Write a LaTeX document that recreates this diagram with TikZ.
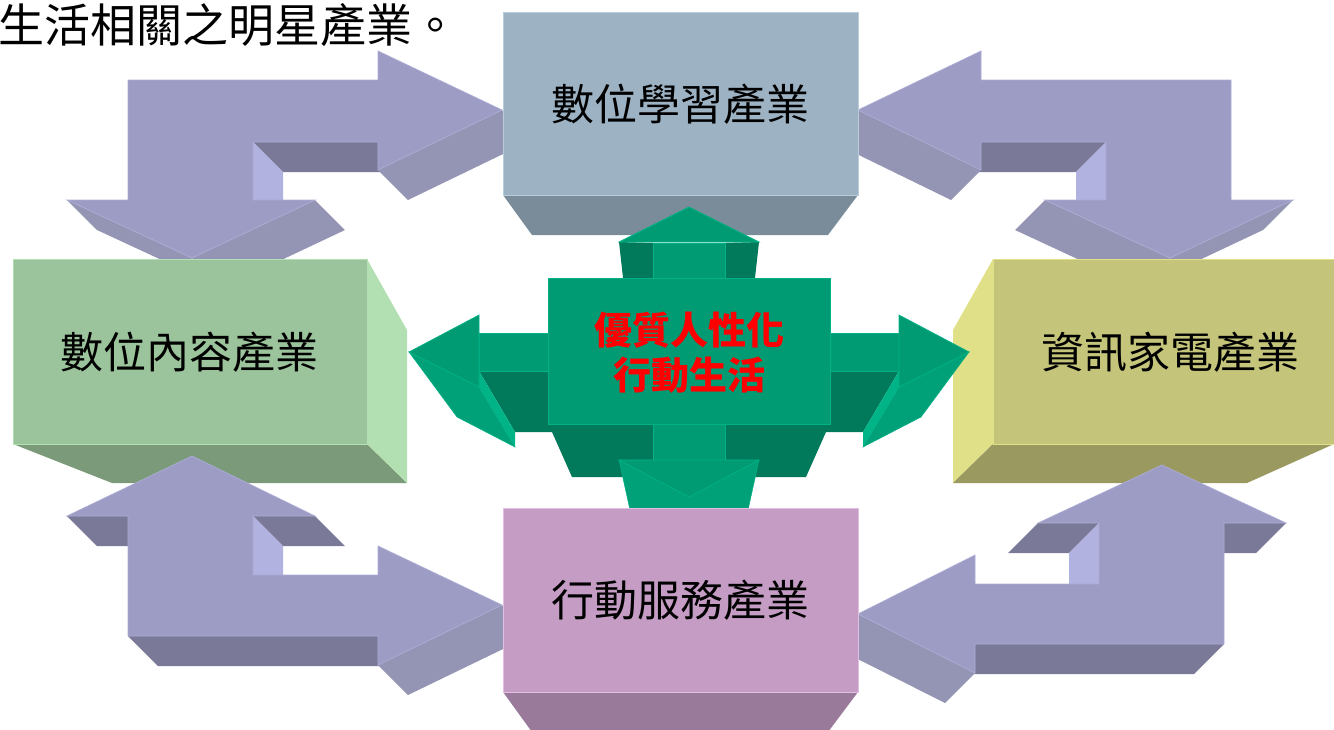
\documentclass[tikz,border=0pt]{standalone}
\usepackage{fontspec}
\setmainfont{Noto Sans CJK TC}
\definecolor{pmain}{RGB}{156,156,196}
\definecolor{pedge}{RGB}{172,172,214}
\definecolor{pdarkc}{RGB}{122,122,152}
\definecolor{pmedc}{RGB}{148,148,180}
\definecolor{plightc}{RGB}{178,178,224}
\definecolor{gmain}{RGB}{0,155,114}
\definecolor{gedge}{RGB}{0,178,134}
\definecolor{gdark}{RGB}{0,122,90}
\definecolor{gmed}{RGB}{0,160,120}
\definecolor{glight}{RGB}{0,180,136}
\definecolor{bluef}{RGB}{157,179,196}
\definecolor{blueb}{RGB}{122,140,153}
\definecolor{bluee}{RGB}{184,204,217}
\definecolor{grnf}{RGB}{156,196,156}
\definecolor{grns}{RGB}{179,224,179}
\definecolor{grnb}{RGB}{122,154,122}
\definecolor{yelf}{RGB}{196,196,122}
\definecolor{yels}{RGB}{224,224,136}
\definecolor{yelb}{RGB}{153,153,96}
\definecolor{pinkf}{RGB}{196,156,196}
\definecolor{pinkb}{RGB}{154,122,154}
\definecolor{pinke}{RGB}{226,190,226}
\tikzset{
  pface/.style={fill=pmain, draw=pedge, line width=0.7pt, line join=miter},
  pdark/.style={fill=pdarkc},
  pmed/.style={fill=pmedc},
  plight/.style={fill=plightc},
  gface/.style={fill=gmain, draw=gedge, line width=0.7pt},
  boxlabel/.style={font=\fontsize{43}{50}\selectfont, text=black, inner sep=0pt},
}
\begin{document}
\begin{tikzpicture}[x=1pt,y=-1pt]
\useasboundingbox (0,0) rectangle (1334,729);
\clip (0,0) rectangle (1334,729);

% ---------- top-left arrow ----------
\fill[pdark] (253,142) -- (378,142) -- (408,172) -- (283,172) -- cycle;
\fill[plight] (253,142) -- (283,172) -- (283,230) -- (253,200) -- cycle;
\fill[pmed] (378,170) -- (502,110) -- (532,140) -- (408,200) -- cycle;
\fill[pmed] (67,200) -- (192,258) -- (222,288) -- (97,230) -- cycle;
\fill[pmed] (315,200) -- (192,258) -- (222,288) -- (345,230) -- cycle;
\filldraw[pface] (128,80) -- (378,80) -- (378,51) -- (502,110) -- (378,170) -- (378,142)
  -- (253,142) -- (253,200) -- (315,200) -- (192,258) -- (67,200) -- (128,200) -- cycle;

% ---------- top-right arrow ----------
\fill[pdark] (1106,142) -- (981,142) -- (951,172) -- (1076,172) -- cycle;
\fill[plight] (1106,142) -- (1076,172) -- (1076,230) -- (1106,200) -- cycle;
\fill[pmed] (981,170) -- (858,110) -- (828,140) -- (951,200) -- cycle;
\fill[pmed] (1045,200) -- (1170,258) -- (1140,288) -- (1015,230) -- cycle;
\fill[pmed] (1293,200) -- (1170,258) -- (1140,288) -- (1263,230) -- cycle;
\filldraw[pface] (1231,80) -- (981,80) -- (981,51) -- (858,110) -- (981,170) -- (981,142)
  -- (1106,142) -- (1106,200) -- (1045,200) -- (1170,258) -- (1293,200) -- (1231,200) -- cycle;

% ---------- left box ----------
\fill[grnb] (13,444) -- (367,444) -- (407,483) -- (112,483) -- cycle;
\fill[grns] (367,259) -- (407,330) -- (407,483) -- (367,444) -- cycle;
\filldraw[fill=grnf, draw=grns, line width=0.7pt] (13,259) rectangle (367,444);
\node[boxlabel] (content) at (189,352) {數位內容產業};

% ---------- right box ----------
\fill[yels] (993,259) -- (953,330) -- (953,483) -- (993,444) -- cycle;
\fill[yelb] (993,444) -- (1334,444) -- (1247,483) -- (953,483) -- cycle;
\filldraw[fill=yelf, draw=yels, line width=0.7pt] (993,259) rectangle (1340,444);
\node[boxlabel] (appliance) at (1170,352) {資訊家電產業};

% ---------- bottom-left arrow ----------
\fill[pdark] (67,516) -- (128,516) -- (158,546) -- (97,546) -- cycle;
\fill[pdark] (253,516) -- (315,516) -- (345,546) -- (283,546) -- cycle;
\fill[plight] (253,516) -- (283,546) -- (283,605) -- (253,575) -- cycle;
\fill[pdark] (128,636) -- (378,636) -- (408,666) -- (158,666) -- cycle;
\fill[pmed] (378,665) -- (502,605) -- (532,635) -- (408,695) -- cycle;
\filldraw[pface] (192,456) -- (315,516) -- (253,516) -- (253,575) -- (378,575) -- (378,546)
  -- (502,605) -- (378,665) -- (378,636) -- (128,636) -- (128,516) -- (67,516) -- cycle;

% ---------- bottom-right arrow ----------
\fill[pdark] (1038,523) -- (1099,523) -- (1069,553) -- (1008,553) -- cycle;
\fill[pdark] (1224,523) -- (1286,523) -- (1256,553) -- (1194,553) -- cycle;
\fill[plight] (1099,523) -- (1069,553) -- (1069,614) -- (1099,584) -- cycle;
\fill[pdark] (975,644) -- (1224,644) -- (1194,674) -- (945,674) -- cycle;
\fill[pmed] (975,673) -- (858,614) -- (828,644) -- (945,703) -- cycle;
\filldraw[pface] (1162,465) -- (1286,523) -- (1224,523) -- (1224,644) -- (975,644) -- (975,673)
  -- (858,614) -- (975,555) -- (975,584) -- (1099,584) -- (1099,523) -- (1038,523) -- cycle;

% ---------- top box ----------
\fill[blueb] (503,195) -- (858,195) -- (828,235) -- (532,235) -- cycle;
\filldraw[fill=bluef, draw=bluee, line width=0.7pt] (503,12) rectangle (858,195);
\node[boxlabel] (learning) at (680,104) {數位學習產業};

% ---------- green cross ----------
\fill[gdark] (479,371) -- (515,432) -- (552,432) -- (572,477) -- (806,477) -- (826,432)
  -- (863,432) -- (899,371) -- cycle;
\fill[gdark] (619,242) -- (653,243) -- (653,278) -- (623,278) -- cycle;
\fill[gdark] (759,242) -- (725,243) -- (725,278) -- (755,278) -- cycle;
\fill[glight] (479,371) -- (479,387) -- (515,447) -- (515,432) -- cycle;
\fill[glight] (899,371) -- (899,387) -- (863,447) -- (863,432) -- cycle;
\filldraw[fill=gmed, draw=gedge, line width=0.5pt] (409,352) -- (479,387) -- (515,447) -- (457,417) -- cycle;
\filldraw[fill=gmed, draw=gedge, line width=0.5pt] (969,352) -- (899,387) -- (863,447) -- (921,417) -- cycle;
\filldraw[fill=gmed, draw=gedge, line width=0.5pt] (619,460) -- (630,510) -- (748,510) -- (759,460) -- cycle;
\filldraw[gface] (479,333) rectangle (548,371);
\filldraw[gface] (830,333) rectangle (899,371);
\filldraw[gface] (653,243) rectangle (725,278);
\filldraw[gface] (653,424) rectangle (725,460);
\filldraw[gface] (548,278) rectangle (830,424);
\filldraw[gface] (409,352) -- (479,315) -- (479,387) -- cycle;
\filldraw[gface] (969,352) -- (899,315) -- (899,387) -- cycle;
\filldraw[gface] (689,207) -- (619,242) -- (759,242) -- cycle;
\filldraw[gface] (619,460) -- (759,460) -- (689,497) -- cycle;
\node[font=\fontsize{38}{45}\selectfont\bfseries, text={rgb,255:red,255;green,0;blue,0},
  align=center, inner sep=0pt] (core) at (689,353) {優質人性化\\行動生活};

% ---------- bottom box ----------
\fill[pinkb] (503,692) -- (858,692) -- (828,732) -- (532,732) -- cycle;
\filldraw[fill=pinkf, draw=pinke, line width=0.7pt] (503,508) rectangle (858,692);
\node[boxlabel] (mobile) at (680,600) {行動服務產業};

% ---------- title ----------
\node[font=\fontsize{46}{52}\selectfont, anchor=west, inner sep=0pt] (title) at (-2,25) {生活相關之明星產業。};
\end{tikzpicture}
\end{document}
